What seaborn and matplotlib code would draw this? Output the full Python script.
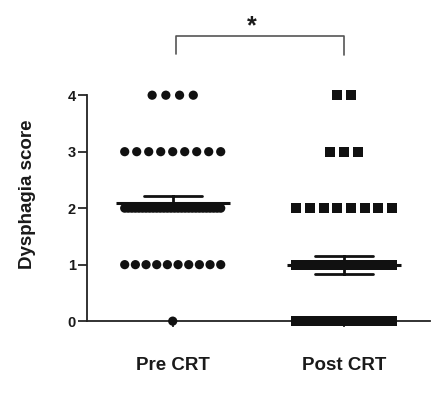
import numpy as np
import pandas as pd
import matplotlib
matplotlib.use("Agg")
import matplotlib.pyplot as plt
import seaborn as sns

# ---- data ----
groups = ["Pre CRT", "Post CRT"]
scores = [0, 1, 2, 3, 4]
pre_counts = [1, 10, 28, 9, 4]     # number of patients at each score
post_counts = [20, 15, 8, 3, 2]
markers = {"Pre CRT": "o", "Post CRT": "s"}

sns.set_style("ticks")
plt.rcParams["font.family"] = ["Liberation Sans", "DejaVu Sans"]

# expand counts into observations with a GraphPad-like row layout
rows = []
for gi, (g, counts) in enumerate(zip(groups, [pre_counts, post_counts])):
    for s, n in zip(scores, counts):
        if n == 0:
            continue
        spacing = min(0.08, 0.56 / max(n - 1, 1))
        offs = (np.arange(n) - (n - 1) / 2) * spacing
        for o in offs:
            rows.append({"group": g, "gi": gi, "x": gi + o, "score": s})
df = pd.DataFrame(rows)

fig = plt.figure(figsize=(4.45, 3.95), dpi=100)
ax = fig.add_axes([0.1955, 0.187, 0.7705, 0.572])

# mean +/- SEM
sns.pointplot(data=df, x="group", y="score", order=groups, errorbar="se",
              capsize=0.34, linestyle="none", marker="_", markersize=82,
              markeredgewidth=2.2, color="#111111", err_kws={"linewidth": 2.0},
              ax=ax, zorder=3)

for g in groups:
    sub = df[df["group"] == g]
    sns.scatterplot(data=sub, x="x", y="score", marker=markers[g],
                    s=44 if g == "Pre CRT" else 52, color="#111111",
                    edgecolor="none", linewidth=0, ax=ax, clip_on=False,
                    zorder=4, legend=False)

ax.set_xlim(-0.5, 1.5)
ax.set_ylim(0, 4)
ax.set_yticks(scores)
ax.set_xticks([0, 1])
ax.set_xticklabels(groups, fontsize=13.5, fontweight="bold", color="#1a1a1a")
ax.set_yticklabels([str(s) for s in scores], fontsize=10.5, fontweight="bold",
                   color="#1a1a1a")
ax.set_xlabel("")
ax.set_ylabel("Dysphagia score", fontsize=13.5, fontweight="bold",
              color="#1a1a1a")
ax.yaxis.set_label_coords(-0.148, 0.562)
ax.tick_params(axis="y", length=6.5, width=1.3, pad=1.5)
ax.tick_params(axis="x", length=4, width=1.3, pad=22)
for sp in ["left", "bottom"]:
    ax.spines[sp].set_linewidth(1.3)
    ax.spines[sp].set_color("#222222")
sns.despine(ax=ax)

# significance bracket
bx = [0.02, 0.02, 1.0, 1.0]
by = [4.73, 5.04, 5.04, 4.71]
ax.plot(bx, by, color="#555555", linewidth=1.2, clip_on=False)
ax.text(0.46, 5.22, "*", ha="center", va="center", fontsize=18,
        fontweight="bold", color="#1a1a1a", clip_on=False)

fig.savefig("out.png", dpi=100)
